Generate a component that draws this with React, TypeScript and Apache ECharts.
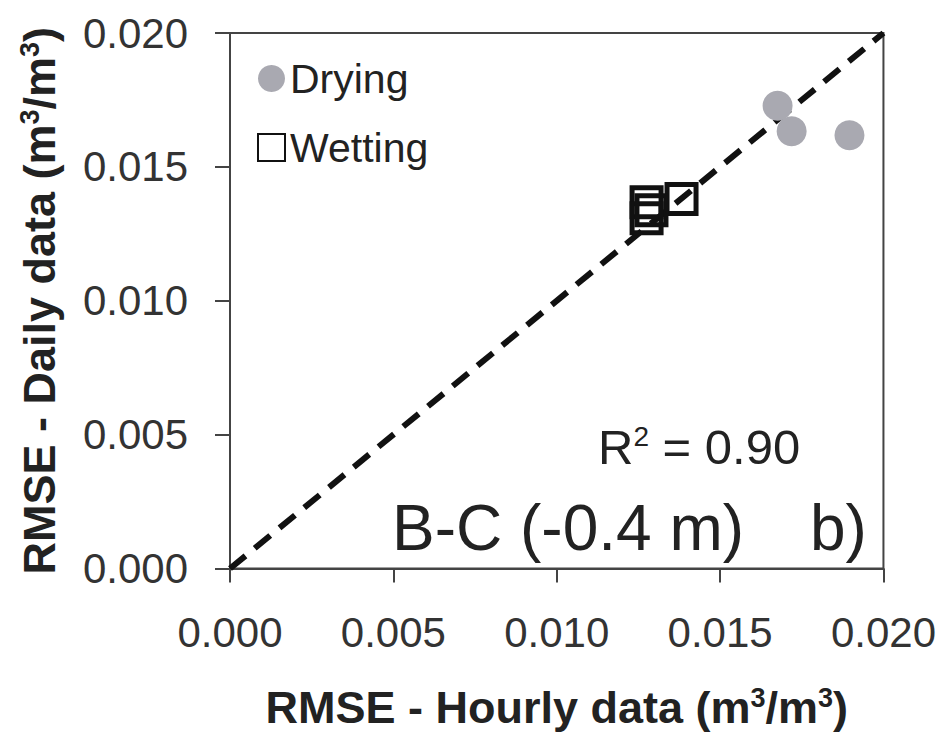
import React, { useEffect, useRef } from "react";
import * as echarts from "echarts";

const dryingX = [0.01676, 0.01719, 0.01896];
const dryingY = [0.01728, 0.01633, 0.01618];
const wettingX = [0.01382, 0.01275, 0.01275, 0.0129];
const wettingY = [0.0138, 0.01368, 0.01308, 0.01338];
const oneToOne = [[0, 0], [0.02, 0.02]];
const tickLabels = ["0.000", "0.005", "0.010", "0.015", "0.020"];

const FONT = "Liberation Sans, Arial, sans-serif";

export default function App() {
  const ref = useRef<HTMLDivElement>(null);
  useEffect(() => {
    if (!ref.current) return;
    const chart = echarts.init(ref.current, null, { renderer: "svg" });
    const fmt = (v: number) => {
      const i = Math.round(v / 0.005);
      return tickLabels[i] ?? v.toFixed(3);
    };
    const nameStyle = {
      fontFamily: FONT,
      fontSize: 45,
      fontWeight: "bold",
      color: "#222",
      rich: {
        sup: { fontSize: 27, fontWeight: "bold", color: "#222", fontFamily: FONT, verticalAlign: "top", padding: [0, 0, 19, 0] },
      },
    };
    chart.setOption({
      animation: false,
      backgroundColor: "#fff",
      textStyle: { fontFamily: FONT },
      grid: {
        left: 222,
        top: 25,
        width: 654,
        height: 545,
        show: true,
        borderColor: "#444",
        borderWidth: 2,
      },
      legend: {
        orient: "vertical",
        left: 244,
        top: 45,
        itemGap: 28,
        itemWidth: 27,
        itemHeight: 27,
        textStyle: { fontFamily: FONT, fontSize: 41, color: "#222" },
        data: [
          { name: "Drying", icon: "circle" },
          { name: "Wetting", icon: "rect" },
        ],
      },
      xAxis: {
        type: "value",
        min: 0,
        max: 0.02,
        interval: 0.005,
        name: "RMSE - Hourly data (m{sup|3}/m{sup|3})",
        nameLocation: "middle",
        nameGap: 116,
        nameTextStyle: nameStyle,
        axisLine: { show: true, lineStyle: { color: "#444", width: 2 } },
        axisTick: { show: true, inside: false, length: 14, lineStyle: { color: "#444", width: 2 } },
        axisLabel: { formatter: fmt, fontSize: 42, color: "#333", margin: 43, fontFamily: FONT },
        splitLine: { show: false },
      },
      yAxis: {
        type: "value",
        min: 0,
        max: 0.02,
        interval: 0.005,
        name: "RMSE - Daily data (m{sup|3}/m{sup|3})",
        nameLocation: "middle",
        nameGap: 168,
        nameTextStyle: nameStyle,
        axisLine: { show: true, lineStyle: { color: "#444", width: 2 } },
        axisTick: { show: true, inside: false, length: 15, lineStyle: { color: "#444", width: 2 } },
        axisLabel: { formatter: fmt, fontSize: 42, color: "#333", margin: 42, fontFamily: FONT },
        splitLine: { show: false },
      },
      graphic: [
        {
          type: "text",
          left: 590,
          top: 414,
          style: {
            text: "R{sup|2} = 0.90",
            fontFamily: FONT,
            fontSize: 49,
            fill: "#222",
            rich: {
              sup: { fontSize: 28, fill: "#222", fontFamily: FONT, verticalAlign: "top", padding: [0, 0, 22, 0] },
            },
          },
        },
        {
          type: "text",
          left: 384,
          top: 488,
          style: { text: "B-C (-0.4 m)", fontFamily: FONT, fontSize: 64, fill: "#222" },
        },
        {
          type: "text",
          left: 802,
          top: 488,
          style: { text: "b)", fontFamily: FONT, fontSize: 64, fill: "#222" },
        },
      ],
      series: [
        {
          name: "1:1",
          type: "line",
          data: oneToOne,
          symbol: "none",
          silent: true,
          lineStyle: { color: "#111", width: 6, type: [20, 12] },
          z: 1,
        },
        {
          name: "Drying",
          type: "scatter",
          data: dryingX.map((x, i) => [x, dryingY[i]]),
          symbol: "circle",
          symbolSize: 30,
          itemStyle: { color: "#a9a9b1", opacity: 1 },
          z: 3,
        },
        {
          name: "Wetting",
          type: "scatter",
          data: wettingX.map((x, i) => [x, wettingY[i]]),
          symbol: "rect",
          symbolSize: 29,
          itemStyle: { color: "rgba(255,255,255,0)", borderColor: "#111", borderWidth: 5, opacity: 1 },
          z: 4,
        },
      ],
    });
    return () => chart.dispose();
  }, []);
  return <div ref={ref} style={{ width: 931, height: 727 }} />;
}
